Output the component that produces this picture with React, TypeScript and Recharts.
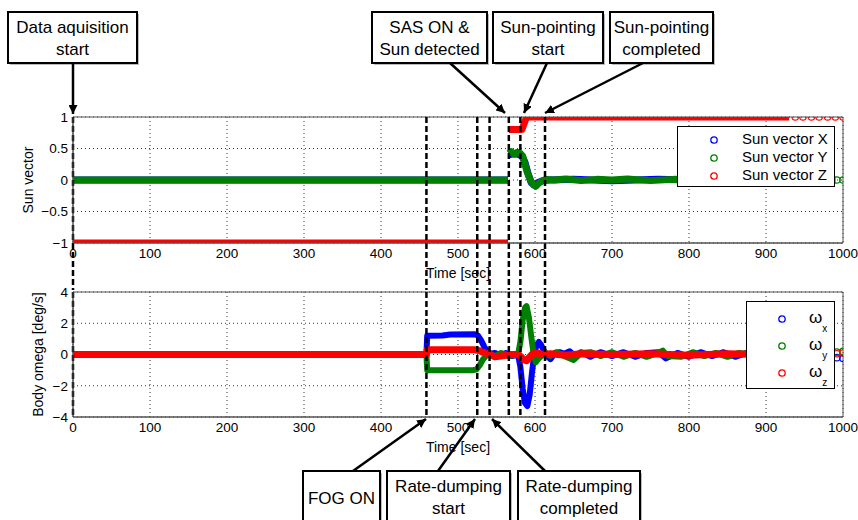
import {
  ComposedChart,
  Line,
  Scatter,
  XAxis,
  YAxis,
  CartesianGrid,
  ReferenceLine,
  ReferenceArea,
} from "recharts";

const timeTicks = [0, 100, 200, 300, 400, 500, 600, 700, 800, 900, 1000];
const sunTicks = [-1, -0.5, 0, 0.5, 1];
const omegaTicks = [-4, -2, 0, 2, 4];

// event markers (sec): acquisition, FOG ON, rate-dumping start/completed, SAS ON, sun-pointing start/completed
const eventTimes = [0, 459, 525, 541, 566, 581, 613];

// sun vector, [time, value], null breaks the line
const sunX: [number, number | null][] = [
  [0, 0], [565, 0], [565.5, null], [566, 0.4], [572, 0.42], [578, 0.41], [583, 0.38],
  [587, 0.28], [591, 0.1], [595, -0.04], [599, -0.08], [604, -0.04], [610, -0.01],
  [620, 0], [650, 0.01], [700, -0.01], [760, 0.01], [800, 0], [990, 0],
];
const sunY: [number, number | null][] = [
  [0, 0], [565, 0], [565.5, null], [566, 0.42], [569, 0.45], [573, 0.41], [577, 0.44],
  [581, 0.42], [584, 0.38], [587, 0.25], [590, 0.12], [594, 0], [598, -0.08], [601, -0.1],
  [605, -0.05], [610, -0.01], [615, 0.01], [625, 0], [640, 0.015], [660, -0.01], [680, 0.01],
  [700, 0], [720, 0.015], [750, -0.01], [780, 0.01], [820, 0], [990, 0],
];
const sunZ: [number, number | null][] = [
  [0, -1], [565, -1], [565.5, null], [566, 0.8], [583, 0.8], [589, 1], [930, 1],
];
const sunYTail: [number, number][] = [[992, 0], [1000, 0]];
const sunZTail: [number, number][] = [
  [938, 1], [948, 1], [959, 1], [969, 1], [980, 1], [990, 1], [1000, 1],
];

// body rates [deg/s]
const omegaX: [number, number][] = [
  [0, 0], [459, 0], [460, 1.2], [480, 1.22], [490, 1.28], [522, 1.3], [526, 1.2], [530, 0.9],
  [534, 0.5], [538, 0.2], [542, 0.05], [548, 0.1], [556, -0.1], [562, 0.1], [570, -0.1],
  [578, 0], [581, -0.8], [584, -2.2], [587, -3.1], [590, -3.3], [593, -2.6], [596, -1.2],
  [599, 0], [602, 0.6], [605, 0.8], [608, 0.6], [612, 0.2], [616, -0.1], [620, -0.3],
  [626, 0.1], [632, 0.15], [638, 0.05], [645, 0.2], [652, -0.1], [660, 0.15], [672, -0.15],
  [685, 0.15], [700, -0.1], [715, 0.15], [730, -0.15], [745, 0.1], [760, 0.15], [770, -0.25],
  [785, 0.1], [800, -0.15], [815, 0.15], [830, -0.1], [845, 0.15], [860, -0.15], [875, 0.1],
  [890, 0],
];
const omegaY: [number, number][] = [
  [0, 0], [459, 0], [460, -1.0], [520, -1.0], [524, -0.95], [528, -0.7], [532, -0.35],
  [536, -0.1], [540, 0.05], [548, -0.1], [556, 0.1], [565, -0.1], [578, 0], [581, 0.8],
  [584, 2.2], [587, 3.0], [589, 3.1], [592, 2.4], [595, 1.2], [598, 0.1], [601, -0.5],
  [604, -0.3], [608, -0.1], [614, 0.1], [620, -0.1], [628, 0.15], [640, -0.15], [650, -0.35],
  [660, 0.1], [672, 0.15], [685, -0.1], [700, 0.15], [715, -0.15], [730, 0.1], [745, -0.15],
  [760, 0.1], [766, 0.25], [772, -0.1], [790, -0.15], [805, 0.15], [820, -0.1], [835, 0.1],
  [850, -0.15], [865, 0.1], [880, 0],
];
const omegaZ: [number, number][] = [
  [0, 0], [459, 0], [460, 0.3], [522, 0.3], [527, 0.25], [532, 0.15], [538, 0.05], [542, 0],
  [548, -0.15], [556, -0.1], [566, 0], [578, 0], [582, -0.15], [586, -0.35], [589, -0.4],
  [593, -0.15], [597, 0.05], [602, 0.1], [610, 0], [620, 0.05], [640, -0.05], [660, 0.05],
  [700, 0], [750, 0.05], [800, -0.05], [850, 0.05], [890, 0],
];
const omegaXTail: [number, number][] = [[992, -0.2], [1000, -0.25]];
const omegaYTail: [number, number][] = [[992, 0.15], [1000, 0.2]];
const omegaZTail: [number, number][] = [[992, 0.05], [1000, 0.1]];

const BLUE = "#0000ff";
const GREEN = "#008000";
const RED = "#ff0000";
const FONT = "'Liberation Sans', Arial, sans-serif";

const toRows = (arr: [number, number | null][]) => arr.map(([t, v]) => ({ t, v }));
const fmt = (v: number) => (v < 0 ? "\u2212" + Math.abs(v) : String(v));

const ring = (color: string) => (p: any) => (
  <circle cx={p.cx} cy={p.cy} r={3.2} fill="none" stroke={color} strokeWidth={1.2} />
);

const yLabel = (text: string, dx: number) => (p: any) => {
  const vb = p.viewBox || { x: 0, y: 0, width: 0, height: 0 };
  const x = vb.x + dx;
  const y = vb.y + vb.height / 2;
  return (
    <text x={x} y={y} transform={`rotate(-90 ${x} ${y})`} textAnchor="middle"
      dominantBaseline="central" fontSize={14} fill="#000" fontFamily={FONT}>
      {text}
    </text>
  );
};

const xLabel = (p: any) => {
  const vb = p.viewBox || { x: 0, y: 0, width: 0, height: 0 };
  return (
    <text x={vb.x + vb.width / 2} y={vb.y + 35} textAnchor="middle" fontSize={14}
      fill="#000" fontFamily={FONT}>
      Time [sec]
    </text>
  );
};

const tickStyle = { fill: "#000", fontSize: 13.5, fontFamily: FONT };
const eventLine = { stroke: "#000", strokeWidth: 2.5, strokeDasharray: "6 3" };

const topLegend = [
  { name: "Sun vector X", color: BLUE },
  { name: "Sun vector Y", color: GREEN },
  { name: "Sun vector Z", color: RED },
];
const bottomLegend = [
  { sub: "x", color: BLUE },
  { sub: "y", color: GREEN },
  { sub: "z", color: RED },
];

type Note = { lines: string[]; box: [number, number, number, number]; from: [number, number]; to: [number, number] };
const notes: Note[] = [
  { lines: ["Data aquisition", "start"], box: [8, 12, 129, 51], from: [73, 63], to: [73, 114] },
  { lines: ["SAS ON &", "Sun detected"], box: [372, 12, 115, 51], from: [450, 63], to: [505, 113] },
  { lines: ["Sun-pointing", "start"], box: [493, 12, 110, 51], from: [547, 63], to: [524, 113] },
  { lines: ["Sun-pointing", "completed"], box: [610, 12, 103, 51], from: [643, 63], to: [545, 113] },
  { lines: ["FOG ON"], box: [303, 471, 77, 52], from: [353, 471], to: [426, 419] },
  { lines: ["Rate-dumping", "start"], box: [387, 471, 123, 52], from: [438, 471], to: [475, 419] },
  { lines: ["Rate-dumping", "completed"], box: [518, 471, 122, 52], from: [545, 471], to: [492, 419] },
];

export default function App() {
  return (
    <div style={{ position: "absolute", left: 0, top: 0, width: 858, height: 520, background: "#fff", fontFamily: FONT, overflow: "hidden" }}>
      <div style={{ position: "absolute", left: 0, top: 0 }}>
        <ComposedChart width={858} height={290} margin={{ top: 117, right: 15, bottom: 17, left: 0 }}>
          <CartesianGrid stroke="#000" strokeDasharray="1 3" strokeWidth={0.8} />
          <XAxis type="number" dataKey="t" domain={[0, 1000]} ticks={timeTicks} height={30}
            tickLine={false} tickSize={3} axisLine={{ stroke: "#555" }} tick={tickStyle}
            allowDataOverflow label={{ content: xLabel }} />
          <YAxis type="number" dataKey="v" domain={[-1, 1]} ticks={sunTicks} width={73}
            tickLine={false} tickSize={3} axisLine={{ stroke: "#555" }} tick={tickStyle}
            tickFormatter={fmt} allowDataOverflow label={{ content: yLabel("Sun vector", 28) }} />
          <Line data={toRows(sunX)} dataKey="v" stroke={BLUE} strokeWidth={7} dot={false}
            isAnimationActive={false} strokeLinejoin="round" />
          <Line data={toRows(sunY)} dataKey="v" stroke={GREEN} strokeWidth={7} dot={false}
            isAnimationActive={false} strokeLinejoin="round" />
          <Line data={toRows(sunZ)} dataKey="v" stroke={RED} strokeWidth={7} dot={false}
            isAnimationActive={false} strokeLinejoin="round" />
          <Scatter data={toRows(sunYTail)} dataKey="v" shape={ring(GREEN)} isAnimationActive={false} />
          <Scatter data={toRows(sunZTail)} dataKey="v" shape={ring(RED)} isAnimationActive={false} />
          <ReferenceArea x1={0} x2={1000} y1={-1} y2={1} fill="none" stroke="#555" strokeWidth={1} ifOverflow="visible" />
          {eventTimes.map((t) => (
            <ReferenceLine key={t} segment={[{ x: t, y: 1 }, { x: t, y: -1.78 }]} ifOverflow="visible" {...eventLine} />
          ))}
        </ComposedChart>
      </div>

      <div style={{ position: "absolute", left: 0, top: 250 }}>
        <ComposedChart width={858} height={270} margin={{ top: 42, right: 15, bottom: 73, left: 0 }}>
          <CartesianGrid stroke="#000" strokeDasharray="1 3" strokeWidth={0.8} />
          <XAxis type="number" dataKey="t" domain={[0, 1000]} ticks={timeTicks} height={30}
            tickLine={false} tickSize={3} axisLine={{ stroke: "#555" }} tick={tickStyle}
            allowDataOverflow label={{ content: xLabel }} />
          <YAxis type="number" dataKey="v" domain={[-4, 4]} ticks={omegaTicks} width={73}
            tickLine={false} tickSize={3} axisLine={{ stroke: "#555" }} tick={tickStyle}
            tickFormatter={fmt} allowDataOverflow label={{ content: yLabel("Body omega [deg/s]", 38) }} />
          <Line data={toRows(omegaX)} dataKey="v" stroke={BLUE} strokeWidth={6} dot={false}
            isAnimationActive={false} strokeLinejoin="round" />
          <Line data={toRows(omegaY)} dataKey="v" stroke={GREEN} strokeWidth={6} dot={false}
            isAnimationActive={false} strokeLinejoin="round" />
          <Line data={toRows(omegaZ)} dataKey="v" stroke={RED} strokeWidth={7} dot={false}
            isAnimationActive={false} strokeLinejoin="round" />
          <Scatter data={toRows(omegaXTail)} dataKey="v" shape={ring(BLUE)} isAnimationActive={false} />
          <Scatter data={toRows(omegaYTail)} dataKey="v" shape={ring(GREEN)} isAnimationActive={false} />
          <Scatter data={toRows(omegaZTail)} dataKey="v" shape={ring(RED)} isAnimationActive={false} />
          <ReferenceArea x1={0} x2={1000} y1={-4} y2={4} fill="none" stroke="#555" strokeWidth={1} ifOverflow="visible" />
          {eventTimes.map((t) => (
            <ReferenceLine key={t} segment={[{ x: t, y: 4 }, { x: t, y: -4 }]} ifOverflow="visible" {...eventLine} />
          ))}
        </ComposedChart>
      </div>

      {/* legends */}
      <div style={{ position: "absolute", left: 677, top: 126, width: 156, height: 59, border: "1px solid #000", background: "#fff" }}>
        {topLegend.map((l, i) => (
          <div key={l.name} style={{ position: "absolute", left: 0, top: 3 + i * 18, height: 18, width: 156 }}>
            <svg width={12} height={12} style={{ position: "absolute", left: 30, top: 4 }}>
              <circle cx={6} cy={6} r={3.2} fill="none" stroke={l.color} strokeWidth={1.3} />
            </svg>
            <span style={{ position: "absolute", left: 64, top: 0, fontSize: 15, whiteSpace: "nowrap", color: "#000" }}>{l.name}</span>
          </div>
        ))}
      </div>
      <div style={{ position: "absolute", left: 746, top: 301, width: 87, height: 86, border: "1px solid #000", background: "#fff" }}>
        {bottomLegend.map((l, i) => (
          <div key={l.sub} style={{ position: "absolute", left: 0, top: 7 + i * 27, height: 22, width: 87 }}>
            <svg width={12} height={12} style={{ position: "absolute", left: 29, top: 4 }}>
              <circle cx={6} cy={6} r={3.2} fill="none" stroke={l.color} strokeWidth={1.3} />
            </svg>
            <span style={{ position: "absolute", left: 62, top: -1, fontSize: 17, color: "#000" }}>
              ω<sub style={{ fontSize: 10, position: "relative", top: 5 }}>{l.sub}</sub>
            </span>
          </div>
        ))}
      </div>

      {/* callouts */}
      <svg width={858} height={520} style={{ position: "absolute", left: 0, top: 0, pointerEvents: "none" }}>
        <defs>
          <marker id="head" viewBox="0 0 10 10" refX={10} refY={5} markerWidth={9} markerHeight={9}
            markerUnits="userSpaceOnUse" orient="auto">
            <path d="M0,0 L10,5 L0,10 z" fill="#000" />
          </marker>
        </defs>
        {notes.map((n, i) => {
          const [x, y, w, h] = n.box;
          const cx = x + w / 2;
          return (
            <g key={i}>
              <rect x={x + 2} y={y + 2} width={w} height={h} fill="#bbb" />
              <rect x={x} y={y} width={w} height={h} fill="#fff" stroke="#000" strokeWidth={2} />
              {n.lines.length === 1 ? (
                <text x={cx} y={y + 33} textAnchor="middle" fontSize={17} fontFamily={FONT} fill="#000">{n.lines[0]}</text>
              ) : (
                n.lines.map((s, j) => (
                  <text key={j} x={cx} y={y + 21 + j * 22} textAnchor="middle" fontSize={17} fontFamily={FONT} fill="#000">{s}</text>
                ))
              )}
              <line x1={n.from[0]} y1={n.from[1]} x2={n.to[0]} y2={n.to[1]} stroke="#000" strokeWidth={2.5} markerEnd="url(#head)" />
            </g>
          );
        })}
      </svg>
    </div>
  );
}
